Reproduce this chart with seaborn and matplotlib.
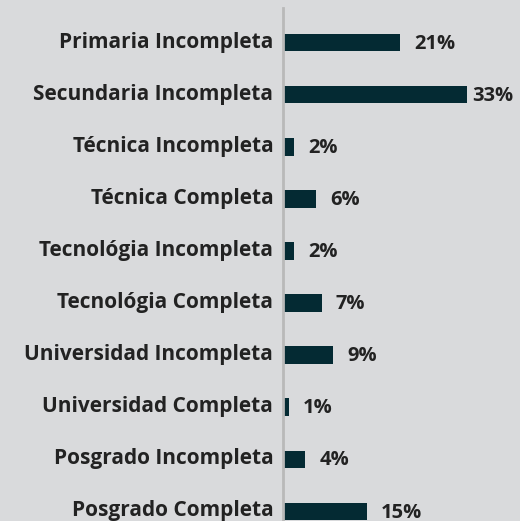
import pandas as pd
import matplotlib
matplotlib.use('Agg')
import matplotlib.pyplot as plt
import matplotlib.transforms as mtransforms
import seaborn as sns

niveles = [
    'Primaria Incompleta',
    'Secundaria Incompleta',
    'Técnica Incompleta',
    'Técnica Completa',
    'Tecnológia Incompleta',
    'Tecnológia Completa',
    'Universidad Incompleta',
    'Universidad Completa',
    'Posgrado Incompleta',
    'Posgrado Completa',
]
porcentajes = [21, 33, 2, 6, 2, 7, 9, 1, 4, 15]

df = pd.DataFrame({'nivel': niveles, 'porcentaje': porcentajes})

fondo = '#d9dadc'
color_barra = '#042a33'
color_texto = '#222222'

sns.set_style('white')
plt.rcParams['font.family'] = ['Open Sans', 'DejaVu Sans']

fig = plt.figure(figsize=(5.2, 5.21), dpi=100, facecolor=fondo)
ax = fig.add_axes([283 / 520, 0, 1 - 283 / 520, 1 - 8 / 521])
ax.set_facecolor(fondo)

sns.barplot(data=df, x='porcentaje', y='nivel', orient='h',
            color=color_barra, width=0.33, saturation=1, linewidth=0, ax=ax)

for container in ax.containers:
    etiquetas = ax.bar_label(container, labels=[f"{v:.0f}%" for v in container.datavalues],
                             padding=10, fontsize=14.5, fontweight='bold', color=color_texto)
    for e in etiquetas:
        e.xyann = (10, -1)
    # la barra mas larga lleva la etiqueta mas pegada
    etiquetas[1].xyann = (4, -1)

ax.set_xlim(0, 42.5)
ax.set_ylim(9.19, -0.67)
ax.set_xlabel('')
ax.set_ylabel('')
ax.set_xticks([])
for lado in ['top', 'right', 'bottom']:
    ax.spines[lado].set_visible(False)
ax.spines['left'].set_color('#b9b9b9')
ax.spines['left'].set_linewidth(2)
ax.tick_params(axis='y', length=0, pad=7)
subir = mtransforms.ScaledTranslation(0, 2 / 72, fig.dpi_scale_trans)
for t in ax.get_yticklabels():
    t.set_fontsize(15)
    t.set_fontweight('bold')
    t.set_color(color_texto)
    t.set_transform(t.get_transform() + subir)

plt.savefig('out.png', dpi=100, facecolor=fondo)
